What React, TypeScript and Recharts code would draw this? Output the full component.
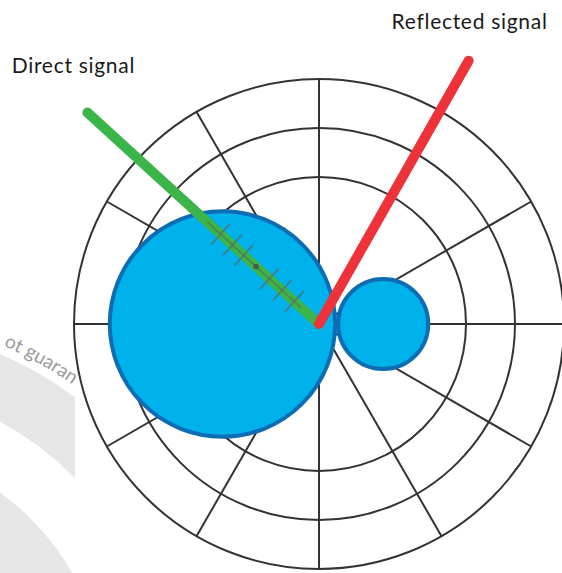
import React from 'react';
import { RadarChart, PolarGrid, PolarAngleAxis, PolarRadiusAxis, Radar } from 'recharts';

// ---- data ----
const bearings = ['0°', '30°', '60°', '90°', '120°', '150°', '180°', '210°', '240°', '270°', '300°', '330°'];
const ringLevels = [3, 4, 5];
const maxLevel = 5;

const signalNames = ['Direct signal', 'Reflected signal'];
const signalAngles = [137.6, 60.4]; // degrees, counter-clockwise from east
const signalLengths = [6.4, 6.18]; // in ring units
const signalColors = ['#3bb44a', '#ee3239'];

const lobeAngles = [180, 0];
const lobeDistances = [1.97, 1.31];
const lobeRadii = [2.3, 0.92];

const hatchOffsets = [0.68, 1.02, 1.37, 2.08, 2.39, 2.72];
const hatchDot = 1.74;
const hatchSpan = [0.5, 3.1];
const hatchHalfLen = 0.28;

const watermarkText = 'ot guaran';

const rows = bearings.map((b) => ({ dir: b, outer: maxLevel }));

// ---- styles ----
const labelDx = [-14, 1];
const labelDy = [-40, -32];
const FONT = 'Lato, "Noto Sans", sans-serif';

const PolarScene = (props: any) => {
  const pts = props.points || [];
  if (!pts.length) return null;
  const { cx, cy, radius, value } = pts[0];
  const k = radius / value;
  const at = (deg: number, r: number) => ({
    x: cx + r * k * Math.cos((deg * Math.PI) / 180),
    y: cy - r * k * Math.sin((deg * Math.PI) / 180),
  });
  const gAng = signalAngles[0];
  const perp = ((gAng + 90) * Math.PI) / 180;
  const nx = Math.cos(perp) * hatchHalfLen * k;
  const ny = -Math.sin(perp) * hatchHalfLen * k;
  const hs = at(gAng, hatchSpan[0]);
  const he = at(gAng, hatchSpan[1]);
  const dot = at(gAng, hatchDot);
  return (
    <g>
      {lobeAngles.map((a, i) => {
        const c = at(a, lobeDistances[i]);
        return (
          <circle key={'lobe' + i} cx={c.x} cy={c.y} r={lobeRadii[i] * k} fill="#00b2ec" stroke="#0c6db3" strokeWidth={4} />
        );
      })}
      {signalAngles.map((a, i) => {
        const tip = at(a, signalLengths[i]);
        return (
          <line key={'sig' + i} x1={cx} y1={cy} x2={tip.x} y2={tip.y} stroke={signalColors[i]} strokeWidth={10} strokeLinecap="round" />
        );
      })}
      <line x1={hs.x} y1={hs.y} x2={he.x} y2={he.y} stroke="#5c6b5c" strokeOpacity={0.8} strokeWidth={1.4} />
      {hatchOffsets.map((d, i) => {
        const p = at(gAng, d);
        return (
          <line key={'h' + i} x1={p.x - nx} y1={p.y - ny} x2={p.x + nx} y2={p.y + ny} stroke="#5c6b5c" strokeOpacity={0.8} strokeWidth={1.6} />
        );
      })}
      <circle cx={dot.x} cy={dot.y} r={2.8} fill="#4d5a4d" />
      {signalAngles.map((a, i) => {
        const tip = at(a, signalLengths[i]);
        return (
          <text key={'lab' + i} x={tip.x + labelDx[i]} y={tip.y + labelDy[i]} textAnchor="middle" fontFamily={FONT} fontSize={21} letterSpacing={0.7} fill="#1a1a1a">
            {signalNames[i]}
          </text>
        );
      })}
    </g>
  );
};

const Watermark = () => (
  <svg width={562} height={573} style={{ position: 'absolute', left: 0, top: 0 }}>
    <defs>
      <clipPath id="wmclip">
        <rect x={0} y={0} width={75} height={573} />
      </clipPath>
      <path id="wmarc" d="M -150 314 A 386 386 0 0 1 236 700" />
    </defs>
    <g clipPath="url(#wmclip)">
      <circle cx={-150} cy={700} r={346.5} fill="none" stroke="#e6e6e6" strokeWidth={61} />
      <circle cx={-150} cy={700} r={225.5} fill="none" stroke="#e6e6e6" strokeWidth={61} />
    </g>
    <text fontFamily={FONT} fontSize={19} fill="#9a9a9a">
      <textPath href="#wmarc" startOffset={158}>{watermarkText}</textPath>
    </text>
  </svg>
);

export default function App() {
  return (
    <div style={{ position: 'absolute', left: 0, top: 0, width: 562, height: 573, background: '#fff' }}>
      <Watermark />
      <div style={{ position: 'absolute', left: 0, top: 0 }}>
        <RadarChart width={562} height={573} data={rows} cx={319} cy={324} outerRadius={245} startAngle={90} endAngle={-270} margin={{ top: 0, right: 0, bottom: 0, left: 0 }}>
          <PolarGrid gridType="circle" stroke="#333333" strokeWidth={2} />
          <PolarAngleAxis dataKey="dir" tick={false} axisLine={false} tickLine={false} />
          <PolarRadiusAxis type="number" domain={[0, maxLevel]} ticks={ringLevels} tick={false} axisLine={false} tickLine={false} />
          <Radar dataKey="outer" stroke="none" fill="none" isAnimationActive={false} shape={(p: any) => <PolarScene {...p} />} />
        </RadarChart>
      </div>
    </div>
  );
}
